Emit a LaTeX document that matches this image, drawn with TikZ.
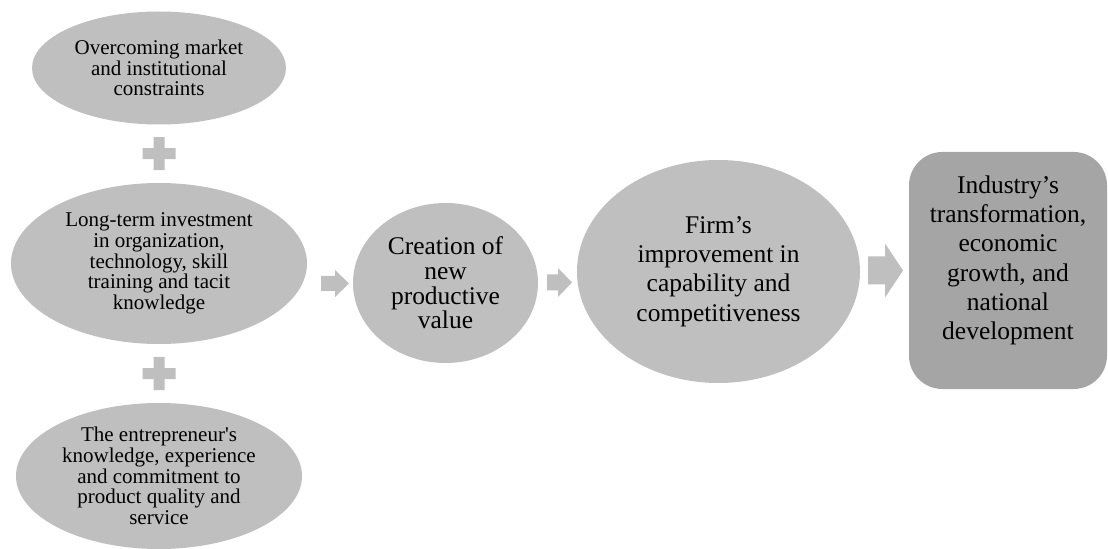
\documentclass[tikz,border=0pt]{standalone}
\usepackage{fontspec}
\setmainfont{Liberation Serif}
\usetikzlibrary{shapes.geometric,calc}
\definecolor{ellfill}{HTML}{BFBFBF}
\definecolor{rectfill}{HTML}{A5A5A5}
\definecolor{arrfill}{HTML}{BFBFBF}
\newcommand\myblockarrow[5]{% #1 centre, #2 length, #3 height, #4 shaft, #5 head length
  \fill[arrfill, shift={#1}] ({-#2/2},{-#4/2}) -- ({#2/2-#5},{-#4/2}) -- ({#2/2-#5},{-#3/2})
    -- ({#2/2},0) -- ({#2/2-#5},{#3/2}) -- ({#2/2-#5},{#4/2}) -- ({-#2/2},{#4/2}) -- cycle;}
\newcommand\myplus[3]{% #1 centre, #2 size, #3 thickness
  \fill[arrfill, shift={#1}] ({-#3/2},{-#2/2}) -- ({#3/2},{-#2/2}) -- ({#3/2},{-#3/2})
    -- ({#2/2},{-#3/2}) -- ({#2/2},{#3/2}) -- ({#3/2},{#3/2}) -- ({#3/2},{#2/2})
    -- ({-#3/2},{#2/2}) -- ({-#3/2},{#3/2}) -- ({-#2/2},{#3/2}) -- ({-#2/2},{-#3/2})
    -- ({-#3/2},{-#3/2}) -- cycle;}
\tikzset{
  smallell/.style={ellipse, fill=ellfill, inner sep=0pt, align=center,
    font=\fontsize{15.75pt}{15.6pt}\selectfont},
  bigell/.style={ellipse, fill=ellfill, inner sep=0pt, align=center,
    font=\fontsize{19.1pt}{22pt}\selectfont},
  endbox/.style={rectangle, rounded corners=25pt, fill=rectfill, inner sep=0pt},
  endtext/.style={align=center, inner sep=0pt, font=\fontsize{19.1pt}{22pt}\selectfont},
}
\begin{document}
\begin{tikzpicture}[x=0.75pt, y=-0.75pt]
\useasboundingbox (0,0) rectangle (1108,549);
\node[smallell, minimum width=190.5pt, minimum height=84.75pt] (over) at (159,68)
  {Overcoming market\\and institutional\\constraints};
\node[smallell, minimum width=222pt, minimum height=120.75pt] (mid) at (159,263.5)
  {Long-term investment\\in organization,\\technology, skill\\training and tacit\\knowledge};
\node[smallell, minimum width=214.5pt, minimum height=109.5pt] (bot) at (159,476)
  {The entrepreneur\textquotesingle s\\knowledge, experience\\and commitment to\\product quality and\\service};
\node[bigell, minimum width=138.75pt, minimum height=120pt,
  font=\fontsize{19.1pt}{18.5pt}\selectfont] (cre) at (445.5,283)
  {Creation of\\new\\productive\\value};
\node[bigell, minimum width=212.25pt, minimum height=167.25pt] (firm) at (718.5,271.5)
  {Firm’s\\improvement in\\capability and\\competitiveness};
\node[endbox, minimum width=148.5pt, minimum height=177.75pt] (ind) at (1008,270.5) {};
\node[endtext] (indtxt) at ([yshift=7.5pt]ind.center)
  {Industry’s\\transformation,\\economic\\growth, and\\national\\development};
% plus signs
\coordinate (p1) at ($(over.south)!0.5!(mid.north)$);
\coordinate (p2) at ($(mid.south)!0.5!(bot.north)$);
\myplus{(p1)}{33}{11}
\myplus{(p2)}{33}{11}
% block arrows
\coordinate (m1) at ($(mid.east)!0.5!(cre.west)$);
\coordinate (m2) at ($(cre.east)!0.5!(firm.west)$);
\coordinate (m3) at ($(firm.east)!0.5!(ind.west)$);
\myblockarrow{($(m1|-cre.center)+(5,0.5)$)}{28}{27}{15}{14}
\myblockarrow{($(m2|-cre.center)+(2,-0.5)$)}{25}{29}{16}{14}
\myblockarrow{($(m3|-ind.center)+(1,0)$)}{35}{54}{28}{18}
\end{tikzpicture}
\end{document}
